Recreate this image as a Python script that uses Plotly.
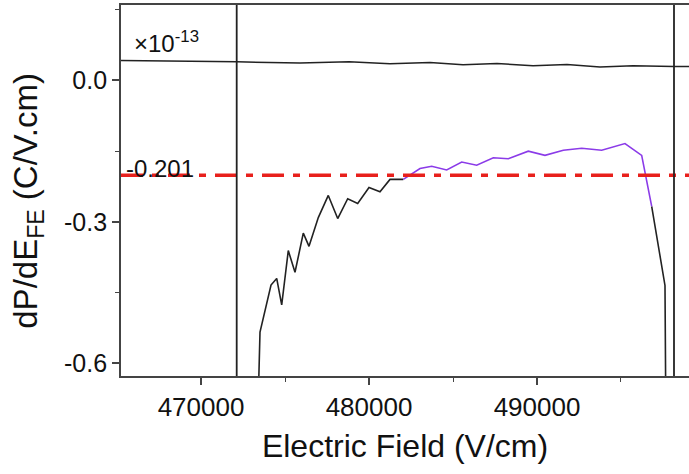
import plotly.graph_objects as go

# Electric field (V/cm) and dP/dE_FE (C/V.cm, x1e-13) along the sweep
field = [473420, 473512, 474167, 474506, 474804, 475196, 475595, 476089, 476429,
         476982, 477577, 478137, 478732, 479327, 480000, 480655, 481250, 482042,
         483036, 483732, 484625, 485518, 486411, 487399, 488292, 489482, 490476,
         491565, 492661, 493851, 495238, 496232, 496827, 497619, 497661]
dpde = [-0.66, -0.534, -0.434, -0.420, -0.476, -0.361, -0.407, -0.324, -0.352,
        -0.291, -0.244, -0.293, -0.251, -0.261, -0.227, -0.236, -0.210, -0.210,
        -0.187, -0.182, -0.190, -0.173, -0.180, -0.164, -0.166, -0.150, -0.159,
        -0.148, -0.144, -0.148, -0.134, -0.159, -0.267, -0.435, -0.66]
# index range of the highlighted region (dP/dE above the threshold)
hi_start, hi_end = 17, 32

# reference trace near the top of the window
ref_field = [465238, 467976, 469940, 472143, 475893, 478810, 481250, 483631,
             485595, 487619, 489762, 491786, 493750, 495714, 498155, 499048]
ref_dpde = [0.0423, 0.0410, 0.0416, 0.0395, 0.0368, 0.0395, 0.0353, 0.0380,
            0.0332, 0.0359, 0.0311, 0.0338, 0.0283, 0.0311, 0.0296, 0.0296]

threshold = -0.201
markers = [472125, 498155]

x_range = [465238, 499048]
y_range = [-0.627, 0.16]
x_ticks = [470000, 480000, 490000]
y_ticks = [0.0, -0.3, -0.6]
y_tick_text = ["0.0", "-0.3", "-0.6"]

FONT = "Liberation Sans, Arial, Helvetica, sans-serif"
INK = "#222222"

fig = go.Figure()

fig.add_trace(go.Scatter(x=ref_field, y=ref_dpde, mode="lines",
                         line=dict(color=INK, width=1.5), showlegend=False))

fig.add_trace(go.Scatter(x=field[:hi_start + 1], y=dpde[:hi_start + 1], mode="lines",
                         line=dict(color=INK, width=1.6), showlegend=False))
fig.add_trace(go.Scatter(x=field[hi_end:], y=dpde[hi_end:], mode="lines",
                         line=dict(color=INK, width=1.6), showlegend=False))
fig.add_trace(go.Scatter(x=field[hi_start:hi_end + 1], y=dpde[hi_start:hi_end + 1],
                         mode="lines", line=dict(color="#8B3BE8", width=1.6),
                         showlegend=False))

# threshold line
fig.add_trace(go.Scatter(x=x_range, y=[threshold, threshold], mode="lines",
                         line=dict(color="#E8201C", width=3.5, dash="22px,9px,7px,9px"),
                         showlegend=False))

for xm in markers:
    fig.add_shape(type="line", xref="x", yref="paper", x0=xm, x1=xm, y0=0, y1=1,
                  line=dict(color=INK, width=1.8))

fig.add_annotation(x=0.02, y=0.855, xref="paper", yref="paper", xanchor="left",
                   yanchor="bottom", showarrow=False,
                   text="×10<sup>-13</sup>", font=dict(family=FONT, size=24, color="#111"))
fig.add_annotation(x=0.005, y=0.558, xref="paper", yref="paper", xanchor="left",
                   yanchor="middle", showarrow=False,
                   text=f"{threshold:.3f}", font=dict(family=FONT, size=24, color="#111"))

# y-axis title
fig.add_annotation(x=-0.164, y=0.472, xref="paper", yref="paper", xanchor="center",
                   yanchor="middle", showarrow=False, textangle=-90,
                   text="dP/dE<sub>FE</sub> (C/V.cm)", font=dict(family=FONT, size=33, color="#111"))

fig.update_layout(
    width=689, height=474,
    margin=dict(l=121, r=0, t=5, b=98),
    paper_bgcolor="white", plot_bgcolor="white",
    font=dict(family=FONT, color="#111"),
    xaxis=dict(range=x_range, tickvals=x_ticks, ticktext=[str(v) for v in x_ticks],
               ticks="outside", ticklen=7, tickwidth=1.5, tickcolor="#444",
               minor=dict(dtick=5000, tick0=465000, ticks="outside", ticklen=4,
                          tickcolor="#444", tickwidth=1.2),
               showline=True, linecolor="#444", linewidth=1.8, mirror=True,
               showgrid=False, zeroline=False,
               tickfont=dict(size=26),
               title=dict(text="Electric Field (V/cm)", font=dict(size=32), standoff=14)),
    yaxis=dict(range=y_range, tickvals=y_ticks, ticktext=y_tick_text,
               ticks="outside", ticklen=7, tickwidth=1.5, tickcolor="#444",
               minor=dict(dtick=0.15, tick0=0, ticks="outside", ticklen=4,
                          tickcolor="#444", tickwidth=1.2),
               showline=True, linecolor="#444", linewidth=1.8,
               showgrid=False, zeroline=False,
               tickfont=dict(size=25)),
)

fig.write_html("out.html")
